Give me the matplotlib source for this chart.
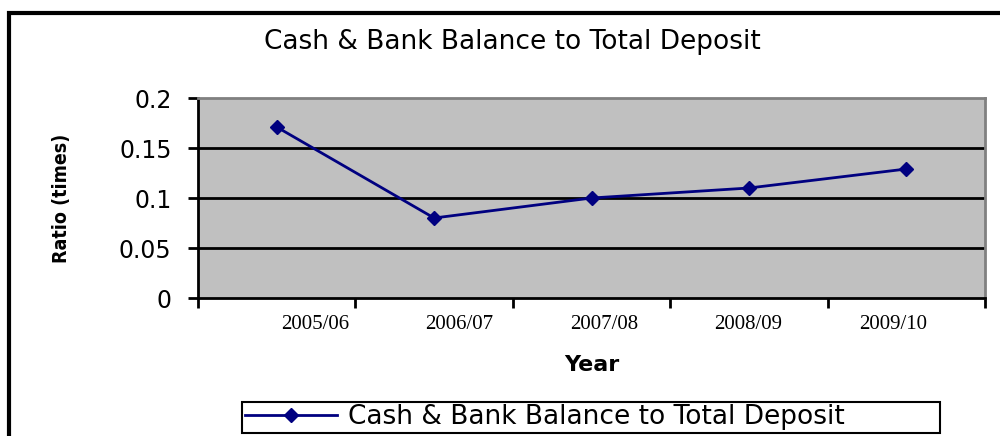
import matplotlib
matplotlib.use("Agg")
import matplotlib.pyplot as plt
from matplotlib.patches import Rectangle
import numpy as np

years = ["2005/06", "2006/07", "2007/08", "2008/09", "2009/10"]
ratio = [0.171, 0.08, 0.10, 0.11, 0.129]
yticks = [0, 0.05, 0.1, 0.15, 0.2]
ytick_labels = ["0", "0.05", "0.1", "0.15", "0.2"]
series_name = "Cash & Bank Balance to Total Deposit"

navy = "#000080"

fig = plt.figure(figsize=(10, 4.36), dpi=100)
ax = fig.add_axes([0.198, 0.3165, 0.787, 0.4587])
ax.set_facecolor("#C0C0C0")

x = np.arange(len(years))
line, = ax.plot(x, ratio, color=navy, lw=2, marker="D", ms=7, mec=navy, mfc=navy)

ax.set_xlim(-0.5, len(years) - 0.5)
ax.set_ylim(0, 0.2)

for v in yticks[1:-1]:
    ax.axhline(v, color="black", lw=2, zorder=1)

ax.set_yticks(yticks)
ax.set_yticklabels(ytick_labels, fontsize=17, family="DejaVu Sans")
ax.tick_params(axis="y", direction="out", length=7, width=2, pad=12)

# category labels in the original sit slightly off the category centres
ax.set_xticks(np.linspace(0.243, 3.915, len(years)))
ax.set_xticklabels(years, fontsize=15, family="Liberation Serif")
ax.set_xticks(np.arange(len(years) + 1) - 0.5, minor=True)
ax.tick_params(axis="x", which="major", length=0, pad=12)
ax.tick_params(axis="x", which="minor", direction="out", length=7, width=2)

for s in ["left", "bottom"]:
    ax.spines[s].set_color("black")
    ax.spines[s].set_linewidth(2)
for s in ["top", "right"]:
    ax.spines[s].set_color("#808080")
    ax.spines[s].set_linewidth(2)

fig.text(0.062, 0.544, "Ratio (times)", fontsize=14, fontweight="bold",
         family="DejaVu Sans", fontstretch="condensed",
         rotation=90, ha="center", va="center")
ax.set_xlabel("Year", fontsize=16, fontweight="bold", family="DejaVu Sans", labelpad=15)

fig.text(0.512, 0.904, series_name, fontsize=19, family="DejaVu Sans",
         ha="center", va="center")

leg = fig.legend([line], [series_name], loc="lower left",
                 bbox_to_anchor=(0.242, 0.007, 0.698, 0.076), mode="expand",
                 borderaxespad=0, prop={"family": "DejaVu Sans", "size": 19},
                 fancybox=False, edgecolor="black", framealpha=1,
                 borderpad=0.1, handlelength=3.5, handletextpad=0.4)
leg.get_frame().set_linewidth(1.5)

fig.patches.append(Rectangle((0.009, -0.2), 1.2, 1.2 - 13 / 436,
                             transform=fig.transFigure, fill=False,
                             edgecolor="black", lw=3))

fig.savefig("out.png", dpi=100)
